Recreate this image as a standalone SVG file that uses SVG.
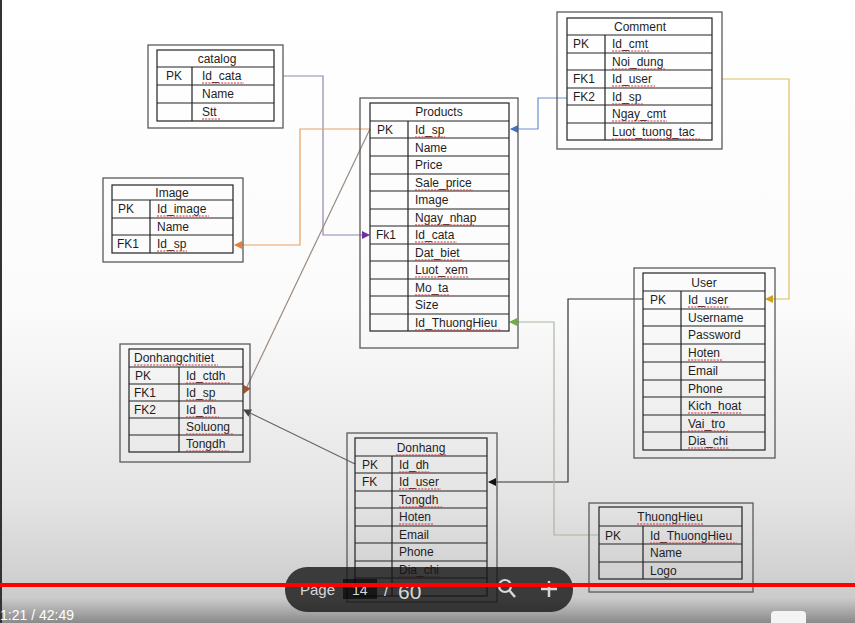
<svg xmlns="http://www.w3.org/2000/svg" width="855" height="623" viewBox="0 0 855 623">
<defs>
<linearGradient id="bg" x1="0" y1="0" x2="0" y2="623" gradientUnits="userSpaceOnUse">
<stop offset="0" stop-color="#ffffff"/>
<stop offset="0.5" stop-color="#fbfbfb"/>
<stop offset="0.8" stop-color="#e4e4e4"/>
<stop offset="0.96" stop-color="#cbcbcb"/>
<stop offset="1" stop-color="#8a8a8a"/>
</linearGradient>
<marker id="mPurple" markerWidth="8" markerHeight="8" refX="7" refY="4" orient="auto" markerUnits="userSpaceOnUse"><path d="M0,0 L8,4 L0,8 z" fill="#7030a0"/></marker>
<marker id="mOrange" markerWidth="8" markerHeight="8" refX="7" refY="4" orient="auto" markerUnits="userSpaceOnUse"><path d="M0,0 L8,4 L0,8 z" fill="#ed7d31"/></marker>
<marker id="mBrown" markerWidth="8" markerHeight="8" refX="7" refY="4" orient="auto" markerUnits="userSpaceOnUse"><path d="M0,0 L8,4 L0,8 z" fill="#a0522d"/></marker>
<marker id="mBlue" markerWidth="8" markerHeight="8" refX="7" refY="4" orient="auto" markerUnits="userSpaceOnUse"><path d="M0,0 L8,4 L0,8 z" fill="#4472c4"/></marker>
<marker id="mGold" markerWidth="8" markerHeight="8" refX="7" refY="4" orient="auto" markerUnits="userSpaceOnUse"><path d="M0,0 L8,4 L0,8 z" fill="#d4a017"/></marker>
<marker id="mBlack" markerWidth="8" markerHeight="8" refX="7" refY="4" orient="auto" markerUnits="userSpaceOnUse"><path d="M0,0 L8,4 L0,8 z" fill="#111"/></marker>
<marker id="mGreen" markerWidth="8" markerHeight="8" refX="7" refY="4" orient="auto" markerUnits="userSpaceOnUse"><path d="M0,0 L8,4 L0,8 z" fill="#70ad47"/></marker>
<marker id="mGray" markerWidth="8" markerHeight="8" refX="7" refY="4" orient="auto" markerUnits="userSpaceOnUse"><path d="M0,0 L8,4 L0,8 z" fill="#444"/></marker>
</defs>
<style>
.outer{fill:none;stroke:#5a5a5a;stroke-width:1.3}
.grid{fill:none;stroke:#222;stroke-width:1.2}
.t{font-family:"Liberation Sans",Arial,sans-serif;font-size:12px;fill:#1e1e1e}
.c{text-anchor:middle}
.sq{stroke:#d03030;stroke-width:1;stroke-dasharray:2 1.2;fill:none}
.con{fill:none;stroke-width:1.2}
.ov{font-family:"Liberation Sans",Arial,sans-serif;fill:#d8d8d8}
</style>
<rect x="0" y="0" width="855" height="623" fill="url(#bg)"/>
<rect x="0" y="0" width="2" height="623" fill="#333"/>

<g id="connectors">
<path class="con" d="M283,76 H323 V235 H369" stroke="#8f86ad" marker-end="url(#mPurple)"/>
<path class="con" d="M370,129 H300 V245 H235" stroke="#e8a060" marker-end="url(#mOrange)"/>
<path class="con" d="M370,129 L244,393" stroke="#9a8a80" marker-end="url(#mBrown)"/>
<path class="con" d="M567,98 H538 V129 H511" stroke="#6a90d0" marker-end="url(#mBlue)"/>
<path class="con" d="M722,79 H789 V299 H766" stroke="#d8c060" marker-end="url(#mGold)"/>
<path class="con" d="M643,299 H568 V482 H489" stroke="#333" marker-end="url(#mBlack)"/>
<path class="con" d="M599,535 H554 V322 H510" stroke="#a8b8a0" marker-end="url(#mGreen)"/>
<path class="con" d="M355,464 L244,410" stroke="#666" marker-end="url(#mGray)"/>
</g>

<g id="catalog">
<rect class="outer" x="148" y="45" width="135" height="83"/>
<rect class="grid" x="157" y="50" width="117" height="71"/>
<path class="grid" d="M157,67 H274 M157,85 H274 M157,103 H274 M192,67 V121"/>
<text class="t c" x="217" y="63">catalog</text>
<text class="t" x="166" y="80">PK</text>
<text class="t" x="202" y="80">Id_cata</text>
<text class="t" x="202" y="98">Name</text>
<text class="t" x="202" y="116">Stt</text>
<path class="sq" d="M202,83 H244 M202,119 H220"/>
</g>

<g id="products">
<rect class="outer" x="360" y="98" width="158" height="250"/>
<rect class="grid" x="370" y="103" width="139" height="228"/>
<path class="grid" d="M370,121 H509 M370,138 H509 M370,156 H509 M370,174 H509 M370,191 H509 M370,209 H509 M370,226 H509 M370,244 H509 M370,261 H509 M370,279 H509 M370,296 H509 M370,314 H509 M408,121 V331"/>
<text class="t c" x="439" y="116">Products</text>
<text class="t" x="377" y="134">PK</text>
<text class="t" x="415" y="134">Id_sp</text>
<text class="t" x="415" y="152">Name</text>
<text class="t" x="415" y="169">Price</text>
<text class="t" x="415" y="187">Sale_price</text>
<text class="t" x="415" y="204">Image</text>
<text class="t" x="415" y="222">Ngay_nhap</text>
<text class="t" x="376" y="239">Fk1</text>
<text class="t" x="415" y="239">Id_cata</text>
<text class="t" x="415" y="257">Dat_biet</text>
<text class="t" x="415" y="274">Luot_xem</text>
<text class="t" x="415" y="292">Mo_ta</text>
<text class="t" x="415" y="309">Size</text>
<text class="t" x="415" y="327">Id_ThuongHieu</text>
<path class="sq" d="M415,137 H445 M415,190 H473 M415,225 H474 M415,242 H457 M415,260 H462 M415,277 H469 M415,295 H449 M415,330 H501"/>
</g>

<g id="comment">
<rect class="outer" x="557" y="12" width="165" height="137"/>
<rect class="grid" x="567" y="18" width="145" height="122"/>
<path class="grid" d="M567,35 H712 M567,53 H712 M567,70 H712 M567,88 H712 M567,105 H712 M567,123 H712 M605,35 V140"/>
<text class="t c" x="640" y="31">Comment</text>
<text class="t" x="573" y="48">PK</text>
<text class="t" x="612" y="48">Id_cmt</text>
<text class="t" x="612" y="66">Noi_dung</text>
<text class="t" x="573" y="83">FK1</text>
<text class="t" x="612" y="83">Id_user</text>
<text class="t" x="573" y="101">FK2</text>
<text class="t" x="612" y="101">Id_sp</text>
<text class="t" x="612" y="118">Ngay_cmt</text>
<text class="t" x="612" y="136">Luot_tuong_tac</text>
<path class="sq" d="M612,51 H650 M612,69 H665 M612,86 H655 M612,104 H643 M612,121 H667 M612,139 H700"/>
</g>

<g id="image">
<rect class="outer" x="103" y="178" width="140" height="84"/>
<rect class="grid" x="112" y="185" width="121" height="68"/>
<path class="grid" d="M112,200 H233 M112,218 H233 M112,235 H233 M150,200 V253"/>
<text class="t c" x="172" y="197">Image</text>
<text class="t" x="118" y="213">PK</text>
<text class="t" x="157" y="213">Id_image</text>
<text class="t" x="157" y="231">Name</text>
<text class="t" x="117" y="248">FK1</text>
<text class="t" x="157" y="248">Id_sp</text>
<path class="sq" d="M157,216 H209 M157,251 H187"/>
</g>

<g id="donhangchitiet">
<rect class="outer" x="120" y="344" width="130" height="118"/>
<rect class="grid" x="129" y="349" width="114" height="103"/>
<path class="grid" d="M129,367 H243 M129,384 H243 M129,401 H243 M129,418 H243 M129,435 H243 M179,367 V452"/>
<text class="t" x="134" y="362">Donhangchitiet</text>
<text class="t" x="135" y="380">PK</text>
<text class="t" x="186" y="380">Id_ctdh</text>
<text class="t" x="134" y="397">FK1</text>
<text class="t" x="186" y="397">Id_sp</text>
<text class="t" x="134" y="414">FK2</text>
<text class="t" x="186" y="414">Id_dh</text>
<text class="t" x="186" y="431">Soluong</text>
<text class="t" x="186" y="448">Tongdh</text>
<path class="sq" d="M134,365 H218 M186,383 H230 M186,400 H216 M186,417 H219 M186,434 H233 M186,451 H229"/>
</g>

<g id="donhang">
<rect class="outer" x="347" y="433" width="150" height="169"/>
<rect class="grid" x="355" y="438" width="132" height="158"/>
<path class="grid" d="M355,456 H487 M355,473 H487 M355,491 H487 M355,508 H487 M355,526 H487 M355,543 H487 M355,561 H487 M355,578 H487 M392,456 V596"/>
<text class="t c" x="421" y="452">Donhang</text>
<text class="t" x="362" y="469">PK</text>
<text class="t" x="399" y="469">Id_dh</text>
<text class="t" x="362" y="486">FK</text>
<text class="t" x="399" y="486">Id_user</text>
<text class="t" x="399" y="504">Tongdh</text>
<text class="t" x="399" y="521">Hoten</text>
<text class="t" x="399" y="539">Email</text>
<text class="t" x="399" y="556">Phone</text>
<text class="t" x="399" y="574">Dia_chi</text>
<path class="sq" d="M396,455 H447 M399,472 H429 M399,489 H441 M399,507 H442 M399,524 H433 M399,577 H440"/>
</g>

<g id="user">
<rect class="outer" x="634" y="268" width="141" height="190"/>
<rect class="grid" x="643" y="273" width="122" height="177"/>
<path class="grid" d="M643,291 H765 M643,309 H765 M643,326 H765 M643,344 H765 M643,362 H765 M643,380 H765 M643,397 H765 M643,415 H765 M643,432 H765 M681,291 V450"/>
<text class="t c" x="704" y="287">User</text>
<text class="t" x="650" y="304">PK</text>
<text class="t" x="688" y="304">Id_user</text>
<text class="t" x="688" y="322">Username</text>
<text class="t" x="688" y="339">Password</text>
<text class="t" x="688" y="357">Hoten</text>
<text class="t" x="688" y="375">Email</text>
<text class="t" x="688" y="393">Phone</text>
<text class="t" x="688" y="410">Kich_hoat</text>
<text class="t" x="688" y="428">Vai_tro</text>
<text class="t" x="688" y="445">Dia_chi</text>
<path class="sq" d="M688,307 H730 M688,360 H722 M688,413 H742 M688,431 H728 M688,448 H729"/>
</g>

<g id="thuonghieu">
<rect class="outer" x="589" y="503" width="164" height="89"/>
<rect class="grid" x="599" y="507" width="143" height="72"/>
<path class="grid" d="M599,526 H742 M599,544 H742 M599,562 H742 M643,526 V579"/>
<text class="t c" x="670" y="521">ThuongHieu</text>
<text class="t" x="605" y="540">PK</text>
<text class="t" x="650" y="540">Id_ThuongHieu</text>
<text class="t" x="650" y="557">Name</text>
<text class="t" x="650" y="575">Logo</text>
<path class="sq" d="M637,524 H704 M650,543 H737"/>
</g>

<g id="video-overlay">
<rect x="285" y="567" width="288" height="45" rx="22" fill="#151515" opacity="0.8"/>
<rect x="343" y="579" width="34" height="20" fill="#000" opacity="0.6"/>
<text class="ov" x="300" y="595" font-size="15">Page</text>
<text class="ov" x="352" y="595" font-size="14">14</text>
<text class="ov" x="384" y="596" font-size="16">/</text>
<text class="ov" x="398" y="599" font-size="21">60</text>
<circle cx="505" cy="586" r="6" fill="none" stroke="#d8d8d8" stroke-width="2.2"/>
<path d="M509,590 L515,597" stroke="#d8d8d8" stroke-width="2.5"/>
<path d="M549,581 V597 M541,589 H557" stroke="#d8d8d8" stroke-width="2.5"/>
<rect x="0" y="583" width="855" height="4" fill="#ff0000"/>
<text x="0" y="620" font-family="Liberation Sans,Arial,sans-serif" font-size="14" fill="#ffffff">1:21 / 42:49</text>
<rect x="771" y="611" width="35" height="16" rx="4" fill="#f4f4f4"/>
</g>
</svg>
